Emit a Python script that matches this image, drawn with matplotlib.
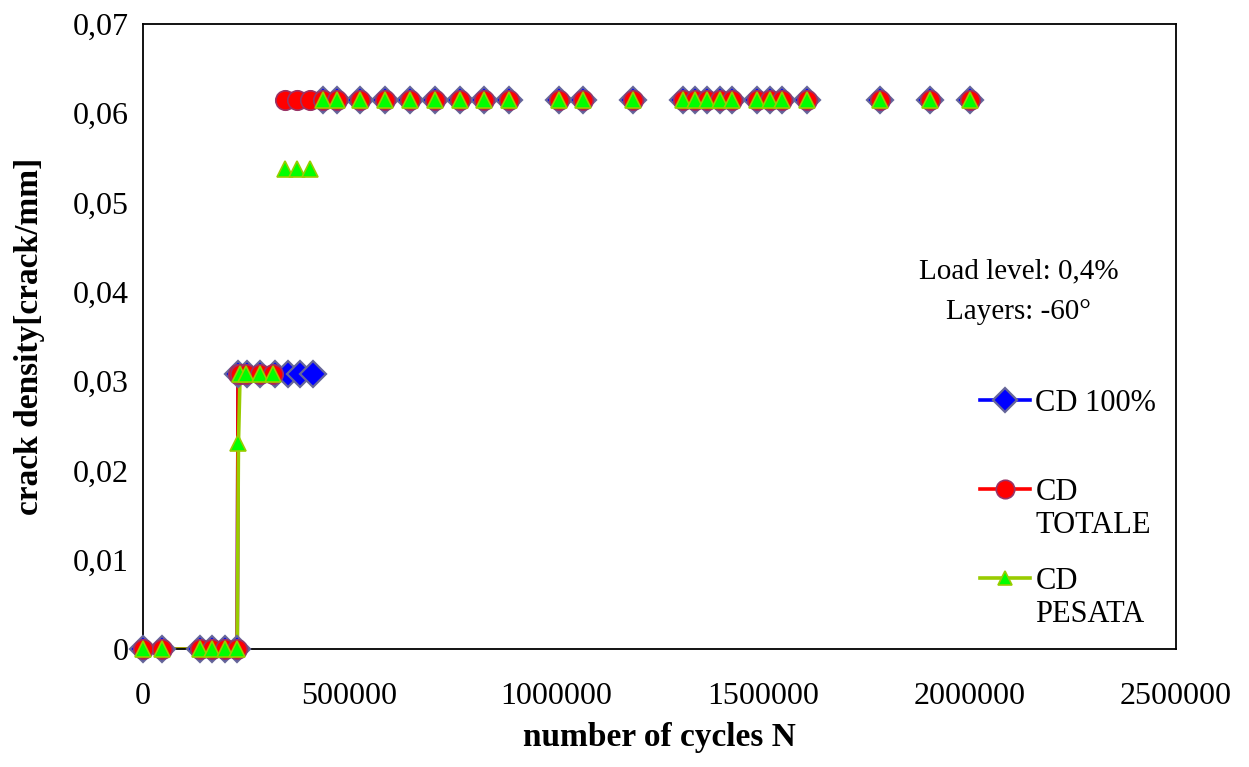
import numpy as np
import matplotlib.pyplot as plt

plt.rcParams['font.family'] = ['Liberation Serif', 'DejaVu Serif']

# cycles N and crack density (crack/mm) for the three counting methods
n_100 = [0, 46000, 138000, 168000, 198000, 228000,
         230000, 252000, 283000, 319000, 351000, 380000, 411000,
         435600, 469500, 525000, 585600, 646000, 706500, 767000, 825000,
         885600, 1006700, 1064800, 1185800, 1306800, 1335800, 1364800,
         1396000, 1425000, 1485600, 1517000, 1546000, 1606600, 1783500,
         1904500, 2001300]
cd_100 = [0, 0, 0, 0, 0, 0,
          0.0308, 0.0308, 0.0308, 0.0308, 0.0308, 0.0308, 0.0308,
          0.0615, 0.0615, 0.0615, 0.0615, 0.0615, 0.0615, 0.0615, 0.0615,
          0.0615, 0.0615, 0.0615, 0.0615, 0.0615, 0.0615, 0.0615,
          0.0615, 0.0615, 0.0615, 0.0615, 0.0615, 0.0615, 0.0615,
          0.0615, 0.0615]

n_tot = [0, 46000, 138000, 168000, 198000, 228000,
         230000, 235000, 250000, 283000, 314000,
         343600, 372700, 404000,
         435600, 469500, 525000, 585600, 646000, 706500, 767000, 825000,
         885600, 1006700, 1064800, 1185800, 1306800, 1335800, 1364800,
         1396000, 1425000, 1485600, 1517000, 1546000, 1606600, 1783500,
         1904500, 2001300]
cd_tot = [0, 0, 0, 0, 0, 0,
          0.0308, 0.0308, 0.0308, 0.0308, 0.0308,
          0.0615, 0.0615, 0.0615,
          0.0615, 0.0615, 0.0615, 0.0615, 0.0615, 0.0615, 0.0615, 0.0615,
          0.0615, 0.0615, 0.0615, 0.0615, 0.0615, 0.0615, 0.0615,
          0.0615, 0.0615, 0.0615, 0.0615, 0.0615, 0.0615, 0.0615,
          0.0615, 0.0615]

n_pes = [0, 46000, 138000, 168000, 198000, 228000,
         231000, 235000, 250000, 283000, 314000,
         343600, 372700, 404000,
         435600, 469500, 525000, 585600, 646000, 706500, 767000, 825000,
         885600, 1006700, 1064800, 1185800, 1306800, 1335800, 1364800,
         1396000, 1425000, 1485600, 1517000, 1546000, 1606600, 1783500,
         1904500, 2001300]
cd_pes = [0, 0, 0, 0, 0, 0,
          0.0231, 0.0308, 0.0308, 0.0308, 0.0308,
          0.0538, 0.0538, 0.0538,
          0.0615, 0.0615, 0.0615, 0.0615, 0.0615, 0.0615, 0.0615, 0.0615,
          0.0615, 0.0615, 0.0615, 0.0615, 0.0615, 0.0615, 0.0615,
          0.0615, 0.0615, 0.0615, 0.0615, 0.0615, 0.0615, 0.0615,
          0.0615, 0.0615]

# the connecting line only runs through the first points of each series
n_line = {'100': 13, 'tot': 11, 'pes': 11}

series = [
    ('CD 100%', n_100, cd_100, n_line['100'],
     dict(color='#0000ff', marker='D', ms=13, mfc='#0000ff', mec='#666699', mew=1.6)),
    ('CD\nTOTALE', n_tot, cd_tot, n_line['tot'],
     dict(color='#ff0000', marker='o', ms=14, mfc='#ff0000', mec='#993366', mew=1.2)),
    ('CD\nPESATA', n_pes, cd_pes, n_line['pes'],
     dict(color='#99cc00', marker='^', ms=11, mfc='#00ff00', mec='#99cc00', mew=1.2)),
]

fig = plt.figure(figsize=(12.49, 7.67), dpi=100)
ax = fig.add_axes([0.1145, 0.1538, 0.827, 0.8149])

for label, n, cd, k, st in series:
    n = np.array(n)
    cd = np.array(cd)
    ax.plot(n[:k], cd[:k], color=st['color'], lw=2.6, zorder=2)
    ax.plot(n, cd, ls='none', marker=st['marker'], ms=st['ms'],
            mfc=st['mfc'], mec=st['mec'], mew=st['mew'], zorder=3, clip_on=False)

ax.set_xlim(0, 2500000)
ax.set_ylim(0, 0.07)
ax.set_xticks(np.arange(0, 2500001, 500000))
ax.set_xticklabels(['0', '500000', '1000000', '1500000', '2000000', '2500000'])
ax.set_yticks(np.arange(0, 0.0701, 0.01))
ax.set_yticklabels(['0', '0,01', '0,02', '0,03', '0,04', '0,05', '0,06', '0,07'])
ax.tick_params(axis='both', labelsize=23, direction='out', length=0)
ax.tick_params(axis='x', pad=24)
ax.tick_params(axis='y', pad=10)
for sp in ax.spines.values():
    sp.set_linewidth(1.3)

ax.set_xlabel('number of cycles N', fontsize=24, fontweight='bold', labelpad=8)
ax.set_ylabel('crack density[crack/mm]', fontsize=24, fontweight='bold', labelpad=20)

ax.text(0.848, 0.572, 'Load level: 0,4%\nLayers: -60°', transform=ax.transAxes,
        ha='center', va='center', fontsize=21, linespacing=1.7)

# hand-built legend so the handle sits beside the first text line
leg_y = [0.3984, 0.256, 0.1136]
for (label, n, cd, k, st), y in zip(series, leg_y):
    ax.plot([0.810, 0.859], [y, y], transform=ax.transAxes, color=st['color'],
            lw=2.6, clip_on=False)
    ax.plot([0.8345], [y], transform=ax.transAxes, ls='none', marker=st['marker'],
            ms=st['ms'] * 0.95, mfc=st['mfc'], mec=st['mec'], mew=st['mew'], clip_on=False)
    ax.text(0.864, y + 0.017, label, transform=ax.transAxes, ha='left', va='top',
            fontsize=22, linespacing=1.15)

fig.savefig('out.png', dpi=100)
